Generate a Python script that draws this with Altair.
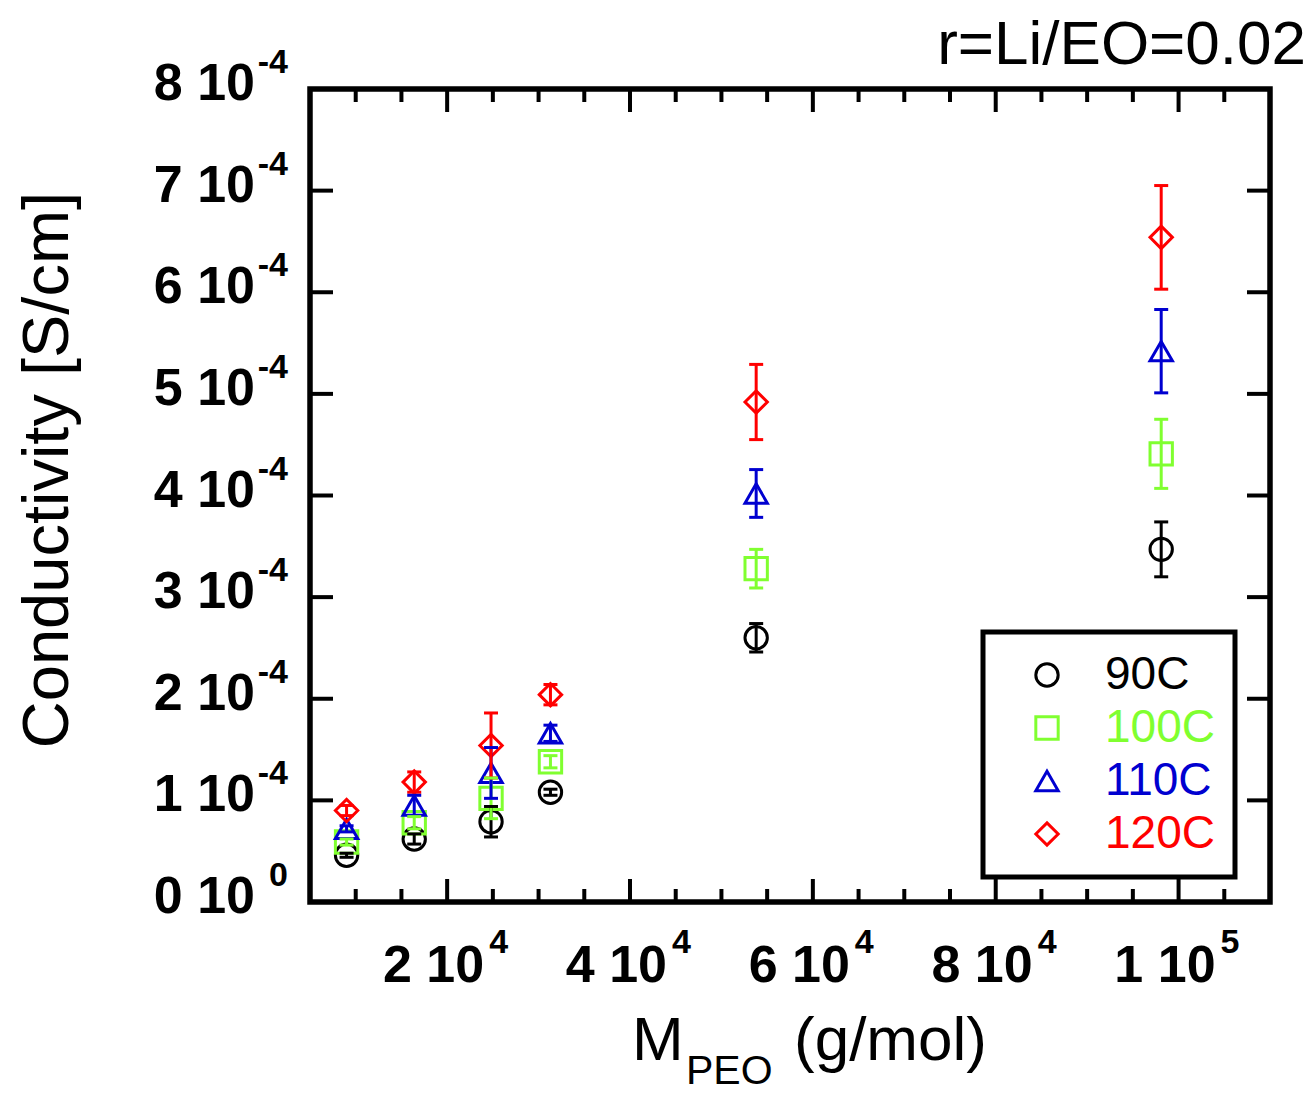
import altair as alt
import pandas as pd

# ---------------- data ----------------
temps = ["90C", "100C", "110C", "120C"]
colors = ["#000000", "#80ff30", "#0000d0", "#ff0000"]
shapes = ["circle", "square", "triangle-up", "diamond"]

mw = [9000, 16400, 24800, 31300, 53800, 98100]  # g/mol

# conductivity in units of 1e-4 S/cm and error half-widths
sig_90 = [0.46, 0.62, 0.79, 1.08, 2.60, 3.47]
err_90 = [0.02, 0.05, 0.15, 0.03, 0.14, 0.27]
sig_100 = [0.59, 0.78, 1.02, 1.38, 3.28, 4.41]
err_100 = [0.03, 0.06, 0.20, 0.06, 0.19, 0.34]
sig_110 = [0.72, 0.95, 1.27, 1.66, 4.02, 5.42]
err_110 = [0.03, 0.10, 0.25, 0.08, 0.235, 0.41]
sig_120 = [0.90, 1.18, 1.54, 2.04, 4.92, 6.54]
err_120 = [0.05, 0.10, 0.32, 0.10, 0.37, 0.51]

y_tick_vals = [0, 1, 2, 3, 4, 5, 6, 7, 8]          # x 1e-4
y_tick_mant = ["0 10", "1 10", "2 10", "3 10", "4 10", "5 10", "6 10", "7 10", "8 10"]
y_tick_exp = ["0", "-4", "-4", "-4", "-4", "-4", "-4", "-4", "-4"]

x_major_vals = [20000, 40000, 60000, 80000, 100000]
x_major_mant = ["2 10", "4 10", "6 10", "8 10", "1 10"]
x_major_exp = ["4", "4", "4", "4", "5"]
x_minor_vals = [10000, 15000, 25000, 30000, 35000, 45000, 50000, 55000,
                65000, 70000, 75000, 85000, 90000, 95000, 105000]

# ---------------- tables ----------------
rows = []
for t, c, vals, errs in zip(temps, colors, [sig_90, sig_100, sig_110, sig_120],
                            [err_90, err_100, err_110, err_120]):
    for m, v, e in zip(mw, vals, errs):
        rows.append({"T": t, "col": c, "M": m, "s": v * 1e-4,
                     "lo": (v - e) * 1e-4, "hi": (v + e) * 1e-4})
df = pd.DataFrame(rows)

ydf = pd.DataFrame({"v": [v * 1e-4 for v in y_tick_vals],
                    "mant": y_tick_mant, "exp": y_tick_exp})
xdf = pd.DataFrame({"v": x_major_vals, "mant": x_major_mant, "exp": x_major_exp})
xmdf = pd.DataFrame({"v": x_minor_vals})
one = pd.DataFrame({"a": [0]})

W, H = 960, 813
FONT = "Liberation Sans"

xs = alt.Scale(domain=[5000, 110000], nice=False, zero=False)
ys = alt.Scale(domain=[0, 8e-4], nice=False, zero=False)
cs = alt.Scale(domain=temps, range=colors)
ss = alt.Scale(domain=temps, range=shapes)

X = alt.X("M:Q", scale=xs, axis=None)
leg = alt.Legend(title=None, orient="none", legendX=673, legendY=543)

points = alt.Chart(df).mark_point(filled=False, size=500, strokeWidth=3, opacity=1).encode(
    x=X,
    y=alt.Y("s:Q", scale=ys, axis=None),
    color=alt.Color("T:N", scale=cs, legend=leg),
    shape=alt.Shape("T:N", scale=ss, legend=leg),
)
COL = alt.Color("col:N", scale=None)
bars = alt.Chart(df).mark_rule(strokeWidth=3).encode(
    x=X, y=alt.Y("lo:Q", scale=ys, axis=None), y2="hi:Q", color=COL,
)
cap_lo = alt.Chart(df).mark_tick(orient="horizontal", size=14, thickness=3, opacity=1).encode(
    x=X, y=alt.Y("lo:Q", scale=ys, axis=None), color=COL,
)
cap_hi = alt.Chart(df).mark_tick(orient="horizontal", size=14, thickness=3, opacity=1).encode(
    x=X, y=alt.Y("hi:Q", scale=ys, axis=None), color=COL,
)

# inward ticks on all four sides
XT = alt.X("v:Q", scale=xs, axis=None)
YT = alt.Y("v:Q", scale=ys, axis=None)
tick_kw = dict(color="black", strokeWidth=4)
xt_bot = alt.Chart(xdf).mark_rule(**tick_kw).encode(x=XT, y=alt.value(H), y2=alt.value(H - 23))
xt_top = alt.Chart(xdf).mark_rule(**tick_kw).encode(x=XT, y=alt.value(0), y2=alt.value(23))
xm_bot = alt.Chart(xmdf).mark_rule(**tick_kw).encode(x=XT, y=alt.value(H), y2=alt.value(H - 13))
xm_top = alt.Chart(xmdf).mark_rule(**tick_kw).encode(x=XT, y=alt.value(0), y2=alt.value(13))
yt_l = alt.Chart(ydf).mark_rule(**tick_kw).encode(y=YT, x=alt.value(0), x2=alt.value(23))
yt_r = alt.Chart(ydf).mark_rule(**tick_kw).encode(y=YT, x=alt.value(W), x2=alt.value(W - 23))

# tick labels with superscripts
lab_kw = dict(font=FONT, fontWeight="bold", color="black", baseline="alphabetic")
ylab = alt.Chart(ydf).mark_text(align="right", fontSize=52, dy=11, **lab_kw).encode(
    y=YT, x=alt.value(-55), text="mant:N")
yexp = alt.Chart(ydf).mark_text(align="right", fontSize=34, dy=-16, **lab_kw).encode(
    y=YT, x=alt.value(-22), text="exp:N")
xlab = alt.Chart(xdf).mark_text(align="right", fontSize=52, dx=37, **lab_kw).encode(
    x=XT, y=alt.value(H + 80), text="mant:N")
xexp = alt.Chart(xdf).mark_text(align="left", fontSize=34, dx=42, **lab_kw).encode(
    x=XT, y=alt.value(H + 51), text="exp:N")

# titles
t_kw = dict(font=FONT, color="black", baseline="alphabetic")
ytitle = alt.Chart(one).mark_text(angle=270, align="center", fontSize=65, **t_kw).encode(
    x=alt.value(-242), y=alt.value(381), text=alt.value("Conductivity [S/cm]"))
xt_M = alt.Chart(one).mark_text(align="left", fontSize=62, **t_kw).encode(
    x=alt.value(322), y=alt.value(H + 158), text=alt.value("M"))
xt_sub = alt.Chart(one).mark_text(align="left", fontSize=41, **t_kw).encode(
    x=alt.value(376), y=alt.value(H + 182), text=alt.value("PEO"))
xt_unit = alt.Chart(one).mark_text(align="left", fontSize=62, **t_kw).encode(
    x=alt.value(484), y=alt.value(H + 158), text=alt.value("(g/mol)"))
toptitle = alt.Chart(one).mark_text(align="right", fontSize=62, **t_kw).encode(
    x=alt.value(996), y=alt.value(-25), text=alt.value("r=Li/EO=0.02"))

label_color = ("datum.label === '90C' ? '#000000' : datum.label === '100C' ? '#80ff30' : "
               "datum.label === '110C' ? '#0000d0' : '#ff0000'")

chart = alt.layer(
    points, bars, cap_lo, cap_hi,
    xt_bot, xt_top, xm_bot, xm_top, yt_l, yt_r,
    ylab, yexp, xlab, xexp,
    ytitle, xt_M, xt_sub, xt_unit, toptitle,
).properties(
    width=W, height=H,
    autosize=alt.AutoSizeParams(type="none"),
    padding={"left": 302, "top": 81, "right": 35, "bottom": 190},
    background="white",
).configure_view(
    stroke="black", strokeWidth=5.5,
).configure_legend(
    fillColor="white", strokeColor="black", strokeWidth=5, padding=20,
    symbolSize=500, symbolStrokeWidth=3, symbolOffset=21, labelOffset=35,
    symbolFillColor="transparent",
    labelFontSize=46, labelFont=FONT, rowPadding=7,
    labelColor=alt.ExprRef(expr=label_color),
)

chart.save("out.html", embed_options={"renderer": "svg", "actions": False})
